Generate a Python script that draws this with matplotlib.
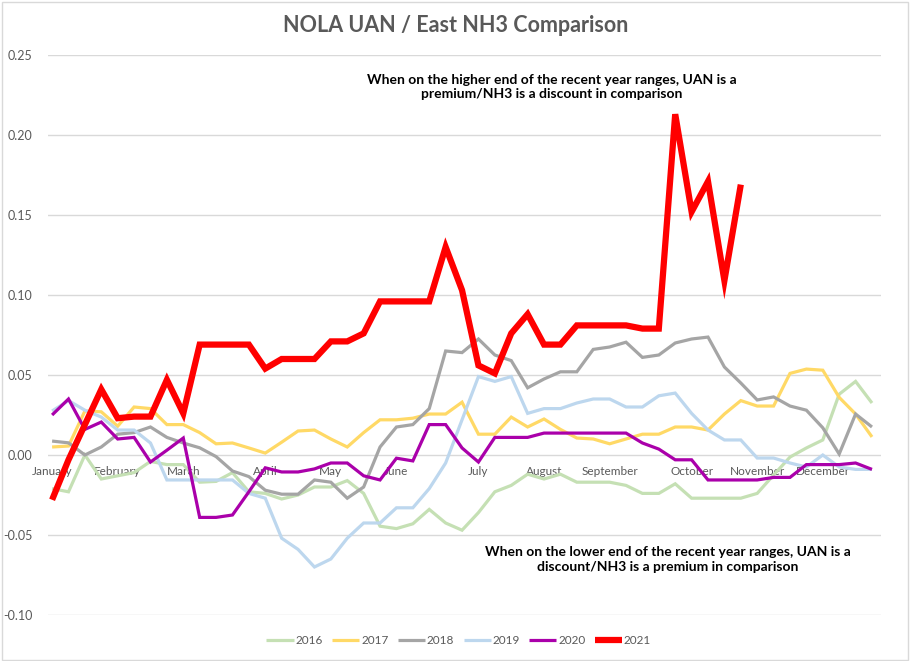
import matplotlib
matplotlib.use("Agg")
import matplotlib.pyplot as plt
from matplotlib.patches import Rectangle
import numpy as np

plt.rcParams['font.family'] = ['Lato', 'DejaVu Sans']

# weekly points, month label at the week where the month starts
month_labels = ['January', 'February', 'March', 'April', 'May', 'June',
                'July', 'August', 'September', 'October', 'November', 'December']
month_weeks = [0, 4, 8, 13, 17, 21, 26, 30, 34, 39, 43, 47]

y2016 = [-0.021, -0.023, 0.000, -0.015, -0.013, -0.011, -0.004, -0.006, -0.006, -0.017,
         -0.0165, -0.011, -0.023, -0.024, -0.0275, -0.025, -0.020, -0.020, -0.016, -0.024,
         -0.0445, -0.046, -0.043, -0.034, -0.0425, -0.047, -0.036, -0.023, -0.019, -0.012,
         -0.015, -0.012, -0.017, -0.017, -0.017, -0.019, -0.024, -0.024, -0.018, -0.027,
         -0.027, -0.027, -0.027, -0.024, -0.0125, -0.0013, 0.0044, 0.0094, 0.038, 0.046,
         0.0325]
y2017 = [0.005, 0.0056, 0.0275, 0.027, 0.018, 0.030, 0.029, 0.019, 0.019, 0.014,
         0.007, 0.0075, 0.0044, 0.0012, 0.008, 0.015, 0.0156, 0.010, 0.005, 0.014,
         0.022, 0.022, 0.023, 0.0256, 0.0256, 0.033, 0.013, 0.013, 0.0237, 0.0175,
         0.0225, 0.016, 0.0106, 0.010, 0.007, 0.010, 0.013, 0.013, 0.0175, 0.0175,
         0.0156, 0.0256, 0.034, 0.0306, 0.0306, 0.051, 0.0537, 0.053, 0.036, 0.0256,
         0.0113]
y2018 = [0.0087, 0.0076, 0.000, 0.005, 0.013, 0.014, 0.0175, 0.011, 0.0075, 0.0045,
         -0.001, -0.010, -0.0135, -0.022, -0.0245, -0.0245, -0.0156, -0.017, -0.027, -0.020,
         0.005, 0.0175, 0.019, 0.029, 0.065, 0.064, 0.0725, 0.0625, 0.059, 0.042,
         0.0475, 0.052, 0.052, 0.066, 0.0675, 0.0705, 0.061, 0.0625, 0.070, 0.0725,
         0.0737, 0.055, 0.045, 0.0344, 0.0363, 0.0306, 0.028, 0.017, 0.0006, 0.0256,
         0.0175]
y2019 = [0.0275, 0.034, 0.028, 0.0237, 0.0156, 0.0156, 0.0075, -0.0156, -0.0156, -0.0156,
         -0.0156, -0.0156, -0.024, -0.027, -0.052, -0.059, -0.070, -0.065, -0.052, -0.0425,
         -0.0425, -0.033, -0.033, -0.021, -0.005, 0.022, 0.049, 0.046, 0.049, 0.026,
         0.029, 0.029, 0.0325, 0.035, 0.035, 0.030, 0.030, 0.037, 0.0387, 0.026,
         0.0156, 0.0094, 0.0094, -0.0019, -0.0019, -0.005, -0.0075, 0.000, -0.0075, -0.009,
         -0.009]
y2020 = [0.025, 0.035, 0.016, 0.0206, 0.010, 0.011, -0.0044, 0.003, 0.0106, -0.039,
         -0.039, -0.0375, -0.023, -0.008, -0.0106, -0.0106, -0.0087, -0.005, -0.005, -0.013,
         -0.0156, -0.002, -0.0037, 0.019, 0.019, 0.0044, -0.0044, 0.011, 0.011, 0.011,
         0.0137, 0.0137, 0.0137, 0.0137, 0.0137, 0.0137, 0.0075, 0.0037, -0.003, -0.003,
         -0.0156, -0.0156, -0.0156, -0.0156, -0.014, -0.014, -0.006, -0.006, -0.006, -0.005,
         -0.009]
y2021 = [-0.028, -0.003, 0.019, 0.041, 0.023, 0.024, 0.024, 0.047, 0.026, 0.069,
         0.069, 0.069, 0.069, 0.054, 0.060, 0.060, 0.060, 0.071, 0.071, 0.076,
         0.096, 0.096, 0.096, 0.096, 0.130, 0.103, 0.056, 0.051, 0.076, 0.088,
         0.069, 0.069, 0.081, 0.081, 0.081, 0.081, 0.079, 0.079, 0.213, 0.152,
         0.171, 0.109, 0.169]

series = [
    ('2016', y2016, '#C5E0B4', 2.3),
    ('2017', y2017, '#FFD966', 2.3),
    ('2018', y2018, '#A5A5A5', 2.3),
    ('2019', y2019, '#BDD7EE', 2.3),
    ('2020', y2020, '#AA00AA', 2.3),
    ('2021', y2021, '#FF0000', 4.5),
]

fig = plt.figure(figsize=(9.12, 6.61), dpi=100)
ax = fig.add_axes([48 / 912, 46 / 661, 833 / 912, 560 / 661])

for name, vals, col, lw in series:
    ax.plot(np.arange(len(vals)), vals, color=col, lw=lw, label=name,
            solid_joinstyle='miter', solid_capstyle='butt')

ax.set_xlim(-0.25, 50.55)
ax.set_ylim(-0.10, 0.25)
ax.set_yticks(np.arange(-0.10, 0.2501, 0.05))
ax.set_yticklabels(['%.2f' % v for v in np.arange(-0.10, 0.2501, 0.05)])
ax.yaxis.grid(True, color='#D9D9D9', lw=1)
ax.set_axisbelow(True)

ax.set_xticks(month_weeks)
ax.set_xticklabels(month_labels)
ax.spines['bottom'].set_position(('data', 0))
for s in ax.spines.values():
    s.set_visible(False)
ax.tick_params(axis='x', length=0, pad=8, labelsize=8.5, labelcolor='#595959')
ax.tick_params(axis='y', length=0, pad=11, labelsize=9, labelcolor='#595959')

fig.text(0.5, 1 - 26 / 661, 'NOLA UAN / East NH3 Comparison', ha='center', va='center',
         fontsize=15.5, fontweight='bold', color='#595959')

ax.text(0.605, 0.943, 'When on the higher end of the recent year ranges, UAN is a\n'
        'premium/NH3 is a discount in comparison', transform=ax.transAxes,
        ha='center', va='center', fontsize=10, fontweight='bold', color='black',
        linespacing=1.25)
ax.text(0.744, 0.099, 'When on the lower end of the recent year ranges, UAN is a\n'
        'discount/NH3 is a premium in comparison', transform=ax.transAxes,
        ha='center', va='center', fontsize=10, fontweight='bold', color='black',
        linespacing=1.25)

fig.legend(loc='center', bbox_to_anchor=(0.503, 1 - 641 / 661), ncol=6, frameon=False,
           fontsize=8.5, handlelength=2.3, columnspacing=0.8, handletextpad=0.15,
           labelcolor='#595959')

fig.patches.append(Rectangle((2 / 912, 1 / 661), 906 / 912, 658 / 661, transform=fig.transFigure,
                             fill=False, edgecolor='#D9D9D9', lw=1))

fig.savefig('out.png', dpi=100)
